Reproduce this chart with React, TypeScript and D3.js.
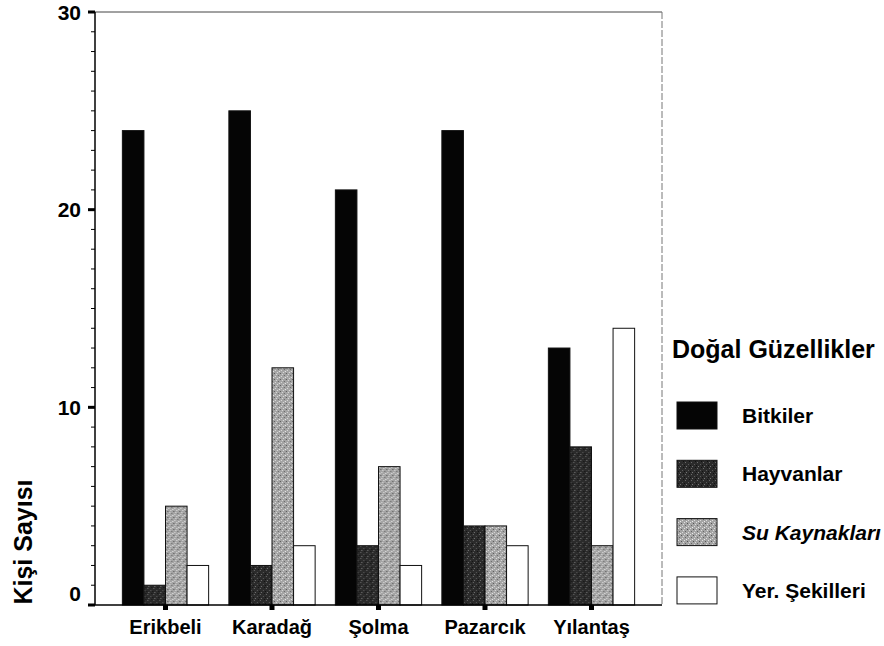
import React from "react";
import * as d3 from "d3";

const categories = ["Erikbeli", "Karadağ", "Şolma", "Pazarcık", "Yılantaş"];
const seriesNames = ["Bitkiler", "Hayvanlar", "Su Kaynakları", "Yer. Şekilleri"];
const bitkiler = [24, 25, 21, 24, 13];
const hayvanlar = [1, 2, 3, 4, 8];
const suKaynaklari = [5, 12, 7, 4, 3];
const yerSekilleri = [2, 3, 2, 3, 14];
const yTicks = [0, 10, 20, 30];
const yLabel = "Kişi Sayısı";
const legendTitle = "Doğal Güzellikler";

const seriesValues = [bitkiler, hayvanlar, suKaynaklari, yerSekilleri];
const fills = ["#050505", "url(#patDark)", "url(#patLight)", "#ffffff"];

const W = 884, H = 646;
const M = { left: 95, right: 662, top: 12, bottom: 605 };
const FONT = "'Liberation Sans', Arial, Helvetica, sans-serif";

export default function App() {
  const x0 = d3.scaleBand<string>().domain(categories).range([M.left, M.right]).paddingInner(0.19).paddingOuter(0.257);
  const x1 = d3.scaleBand<string>().domain(seriesNames).range([0, x0.bandwidth()]).padding(0);
  const y = d3.scaleLinear().domain([0, 30]).range([M.bottom, M.top]);
  const minor = d3.range(0, 31, 1);

  return (
    <svg width={W} height={H} style={{ position: "absolute", left: 0, top: 0, background: "#fff" }} fontFamily={FONT}>
      <defs>
        <pattern id="patDark" width="6" height="6" patternUnits="userSpaceOnUse">
          <rect width="6" height="6" fill="#2b2b2b" />
          <rect x="1" y="0" width="1" height="1" fill="#6a6a6a" />
          <rect x="4" y="2" width="1" height="1" fill="#5a5a5a" />
          <rect x="2" y="4" width="1" height="1" fill="#777" />
          <rect x="5" y="5" width="1" height="1" fill="#111" />
          <rect x="0" y="3" width="1" height="1" fill="#111" />
        </pattern>
        <pattern id="patLight" width="6" height="6" patternUnits="userSpaceOnUse">
          <rect width="6" height="6" fill="#a4a4a4" />
          <rect x="0" y="0" width="1" height="1" fill="#e0e0e0" />
          <rect x="3" y="1" width="1" height="1" fill="#555" />
          <rect x="1" y="3" width="1" height="1" fill="#666" />
          <rect x="4" y="4" width="1" height="1" fill="#dcdcdc" />
          <rect x="2" y="5" width="1" height="1" fill="#ececec" />
          <rect x="5" y="2" width="1" height="1" fill="#ddd" />
        </pattern>
      </defs>

      {/* frame top and right */}
      <line x1={M.left} x2={M.right} y1={M.top} y2={M.top} stroke="#444" strokeWidth={1} />
      <line x1={M.right} x2={M.right} y1={M.top} y2={M.bottom} stroke="#777" strokeWidth={1} strokeDasharray="7,2" />

      {/* bars */}
      {categories.map((c, i) => (
        <g key={c} transform={`translate(${x0(c)},0)`}>
          {seriesNames.map((s, j) => {
            const v = seriesValues[j][i];
            return (
              <rect key={s} x={x1(s)} y={y(v)} width={x1.bandwidth()} height={y(0) - y(v)}
                fill={fills[j]} stroke="#111" strokeWidth={1} />
            );
          })}
        </g>
      ))}

      {/* y axis */}
      <line x1={M.left} x2={M.left} y1={M.top} y2={M.bottom} stroke="#000" strokeWidth={1.5} />
      {minor.map((t) => (
        <line key={t} x1={M.left - 4} x2={M.left} y1={y(t)} y2={y(t)} stroke="#000" strokeWidth={1} />
      ))}
      {yTicks.map((t) => (
        <g key={t}>
          <rect x={M.left - 7} y={y(t) - 1.5} width={7} height={3} fill="#000" />
          <text x={81} y={y(t) + (t === 0 ? -12 : 0)} dy="0.36em" textAnchor="end" fontSize={21} fontWeight="bold">{t}</text>
        </g>
      ))}

      {/* x axis */}
      <line x1={M.left} x2={M.right} y1={M.bottom} y2={M.bottom} stroke="#000" strokeWidth={1.5} />
      {categories.map((c) => {
        const cx = (x0(c) as number) + x0.bandwidth() / 2;
        return (
          <g key={c}>
            <rect x={cx - 2.5} y={M.bottom} width={5} height={5} fill="#000" />
            <text x={cx} y={634} textAnchor="middle" fontSize={20} fontWeight="bold">{c}</text>
          </g>
        );
      })}

      {/* y label */}
      <text transform={`translate(32,542) rotate(-90)`} textAnchor="middle" fontSize={25} fontWeight="bold">{yLabel}</text>

      {/* legend */}
      <text x={672} y={358} fontSize={25} fontWeight="bold">{legendTitle}</text>
      {seriesNames.map((s, j) => {
        const top = 402 + j * 58.3;
        return (
          <g key={s}>
            <rect x={677} y={top} width={40} height={27} fill={fills[j]} stroke="#111" strokeWidth={1} />
            <text x={742} y={top + 21} fontSize={21} fontWeight="bold" fontStyle={j === 2 ? "italic" : "normal"}>{s}</text>
          </g>
        );
      })}
    </svg>
  );
}
